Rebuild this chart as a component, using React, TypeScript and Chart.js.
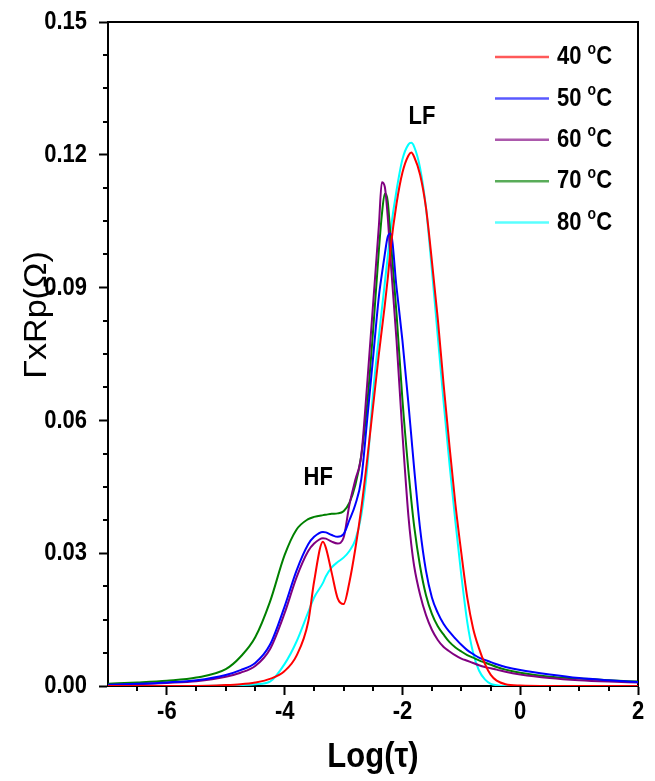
import React, { useEffect, useRef } from 'react';
import { Chart, registerables } from 'chart.js';

Chart.register(...registerables);

// ---- data ----
const LOG_TAU = [
  -7, -6.5, -6, -5.5, -5, -4.75, -4.5, -4.25, -4, -3.8,
  -3.6, -3.5, -3.35, -3.3, -3.2, -3.1, -3, -2.9, -2.8, -2.7,
  -2.6, -2.5, -2.4, -2.35, -2.3, -2.25, -2.2, -2.1, -2, -1.9,
  -1.85, -1.8, -1.7, -1.6, -1.5, -1.4, -1.3, -1.2, -1.1, -1,
  -0.9, -0.8, -0.7, -0.6, -0.5, -0.4, -0.25, 0, 0.5, 1,
  1.5, 2,
];

const T40 = [
  0, 0, 0, 0, 0.0002, 0.0004, 0.0008, 0.0016, 0.0034, 0.0068,
  0.0145, 0.0236, 0.0326, 0.0312, 0.0255, 0.0198, 0.0185, 0.0235, 0.031, 0.04,
  0.051, 0.063, 0.075, 0.0805, 0.086, 0.092, 0.099, 0.109, 0.116, 0.1198,
  0.1205, 0.1195, 0.1155, 0.108, 0.096, 0.083, 0.068, 0.054, 0.041, 0.03,
  0.02, 0.013, 0.0085, 0.005, 0.0025, 0.0012, 0.0004, 0.0001, 0, 0,
  0, 0,
];

const T50 = [
  0.0003, 0.0005, 0.0008, 0.0013, 0.0025, 0.0036, 0.0052, 0.0093, 0.018, 0.026,
  0.032, 0.0337, 0.0348, 0.0347, 0.0341, 0.0337, 0.0343, 0.0375, 0.041, 0.0466,
  0.06, 0.074, 0.088, 0.093, 0.0975, 0.1015, 0.1022, 0.09, 0.078, 0.064,
  0.0565, 0.049, 0.0355, 0.026, 0.02, 0.0165, 0.014, 0.0122, 0.0107, 0.0093,
  0.0081, 0.0072, 0.0064, 0.0059, 0.0054, 0.0049, 0.0043, 0.0036, 0.0026, 0.0018,
  0.0013, 0.0009,
];

const T60 = [
  0.0002, 0.0004, 0.0007, 0.0011, 0.0021, 0.003, 0.0045, 0.0083, 0.0165, 0.0245,
  0.0305, 0.0322, 0.0334, 0.0333, 0.0326, 0.0322, 0.0335, 0.041, 0.0466, 0.052,
  0.068, 0.086, 0.104, 0.1138, 0.1128, 0.106, 0.096, 0.078, 0.057, 0.0386,
  0.032, 0.027, 0.0206, 0.016, 0.0127, 0.0104, 0.0088, 0.0078, 0.0069, 0.0062,
  0.0057, 0.0052, 0.0047, 0.0043, 0.004, 0.0037, 0.0032, 0.0026, 0.0018, 0.0013,
  0.001, 0.0008,
];

const T70 = [
  0.0005, 0.0008, 0.0012, 0.0019, 0.0038, 0.0066, 0.011, 0.019, 0.0296, 0.0353,
  0.0377, 0.0382, 0.0386, 0.0387, 0.0389, 0.039, 0.0395, 0.0414, 0.0454, 0.052,
  0.0635, 0.08, 0.0985, 0.1064, 0.1112, 0.1095, 0.101, 0.084, 0.0646, 0.0488,
  0.042, 0.036, 0.027, 0.0205, 0.0163, 0.0135, 0.0116, 0.0099, 0.0087, 0.0078,
  0.007, 0.0064, 0.0058, 0.0053, 0.0048, 0.0043, 0.0037, 0.003, 0.0021, 0.0017,
  0.0013, 0.001,
];

const T80 = [
  0, 0, 0, 0, 0.0001, 0.0002, 0.0004, 0.001, 0.005, 0.01,
  0.0167, 0.02, 0.0233, 0.0248, 0.0268, 0.028, 0.029, 0.0305, 0.033, 0.0385,
  0.049, 0.066, 0.079, 0.085, 0.091, 0.097, 0.103, 0.112, 0.119, 0.1223,
  0.1227, 0.1218, 0.117, 0.108, 0.094, 0.079, 0.064, 0.05, 0.037, 0.025,
  0.0145, 0.0075, 0.0035, 0.0015, 0.0005, 0.0002, 0, 0, 0, 0,
  0, 0,
];

const SERIES_VALUES = [T40, T50, T60, T70, T80];
const SERIES_TEMPS = ['40', '50', '60', '70', '80'];
const SERIES_COLORS = ['#ff0000', '#0000ff', '#800080', '#008000', '#00ffff'];

const X_MIN = -7;
const X_MAX = 2;
const Y_MIN = 0;
const Y_MAX = 0.15;
const X_TICKS = [-6, -4, -2, 0, 2];
const Y_TICKS = [0, 0.03, 0.06, 0.09, 0.12, 0.15];
const X_MINOR_STEP = 0.5;
const Y_MINOR_STEP = 0.0075;

const X_TITLE = 'Log(τ)';
const Y_TITLE = 'ΓxRp(Ω)';
const ANNOTATIONS = [
  { text: 'HF', x: -3.43, y: 0.047 },
  { text: 'LF', x: -1.67, y: 0.1286 },
];

const SANS = "'Liberation Sans', Arial, sans-serif";
const STRETCH = 1.2;

function drawText(
  ctx: CanvasRenderingContext2D,
  text: string,
  x: number,
  y: number,
  font: string,
  align: CanvasTextAlign,
  sy = 1,
) {
  ctx.save();
  ctx.translate(x, y);
  ctx.scale(1, sy);
  ctx.font = font;
  ctx.textAlign = align;
  ctx.textBaseline = 'middle';
  ctx.fillStyle = '#000';
  ctx.fillText(text, 0, 0);
  ctx.restore();
}

const decorPlugin = {
  id: 'decor',
  beforeDatasetsDraw(chart: any) {
    const { ctx, chartArea: a, scales } = chart;
    const xs = scales.x;
    const ys = scales.y;
    ctx.save();
    ctx.strokeStyle = '#000';
    ctx.lineWidth = 2;
    ctx.strokeRect(a.left, a.top, a.right - a.left, a.bottom - a.top);
    ctx.beginPath();
    const nx = Math.round((X_MAX - X_MIN) / X_MINOR_STEP);
    for (let i = 1; i < nx; i++) {
      const v = X_MIN + i * X_MINOR_STEP;
      if (X_TICKS.some((t) => Math.abs(t - v) < 1e-6)) continue;
      const px = Math.round(xs.getPixelForValue(v));
      ctx.moveTo(px, a.bottom);
      ctx.lineTo(px, a.bottom + 5);
    }
    const ny = Math.round((Y_MAX - Y_MIN) / Y_MINOR_STEP);
    for (let i = 1; i < ny; i++) {
      const v = Y_MIN + i * Y_MINOR_STEP;
      if (Y_TICKS.some((t) => Math.abs(t - v) < 1e-6)) continue;
      const py = Math.round(ys.getPixelForValue(v));
      ctx.moveTo(a.left, py);
      ctx.lineTo(a.left - 5, py);
    }
    ctx.stroke();
    ctx.restore();
  },
  afterDatasetsDraw(chart: any) {
    const { ctx, chartArea: a, scales } = chart;
    const xs = scales.x;
    const ys = scales.y;
    const tickFont = `bold 22px ${SANS}`;
    // tick labels
    xs.ticks.forEach((t: any) => {
      drawText(ctx, String(t.value), xs.getPixelForValue(t.value), a.bottom + 26, tickFont, 'center', STRETCH);
    });
    ys.ticks.forEach((t: any) => {
      drawText(ctx, Number(t.value).toFixed(2), a.left - 21, ys.getPixelForValue(t.value), tickFont, 'right', STRETCH);
    });
    // legend
    SERIES_TEMPS.forEach((t, i) => {
      const y = a.top + 35 + i * 41.4;
      ctx.save();
      ctx.strokeStyle = SERIES_COLORS[i];
      ctx.globalAlpha = 0.65;
      ctx.lineWidth = 2.5;
      ctx.beginPath();
      ctx.moveTo(a.right - 143, y);
      ctx.lineTo(a.right - 89, y);
      ctx.stroke();
      ctx.restore();
      const font = `bold 22px ${SANS}`;
      let x = a.right - 81;
      drawText(ctx, t + ' ', x, y, font, 'left', STRETCH);
      ctx.font = font;
      x += ctx.measureText(t + ' ').width;
      drawText(ctx, 'o', x, y - 8, `bold 14px ${SANS}`, 'left', STRETCH);
      ctx.font = `bold 14px ${SANS}`;
      x += ctx.measureText('o').width;
      drawText(ctx, 'C', x, y, font, 'left', STRETCH);
    });
    // annotations
    ANNOTATIONS.forEach((an) => {
      drawText(
        ctx,
        an.text,
        xs.getPixelForValue(an.x),
        ys.getPixelForValue(an.y),
        `bold 22px ${SANS}`,
        'center',
        STRETCH,
      );
    });
    // axis titles
    drawText(ctx, X_TITLE, (a.left + a.right) / 2, 757, `bold 31px ${SANS}`, 'center', 1.12);
    ctx.save();
    ctx.translate(37, 315);
    ctx.rotate(-Math.PI / 2);
    ctx.scale(1.1, 1);
    ctx.font = `31px ${SANS}`;
    ctx.textAlign = 'center';
    ctx.textBaseline = 'middle';
    ctx.fillStyle = '#000';
    ctx.fillText(Y_TITLE, 0, 0);
    ctx.restore();
  },
};

export default function App() {
  const canvasRef = useRef<HTMLCanvasElement | null>(null);

  useEffect(() => {
    const canvas = canvasRef.current;
    if (!canvas) return;
    const datasets = SERIES_VALUES.map((vals, i) => ({
      label: SERIES_TEMPS[i] + ' °C',
      data: LOG_TAU.map((x, j) => ({ x, y: vals[j] })),
      borderColor: SERIES_COLORS[i],
      backgroundColor: SERIES_COLORS[i],
      borderWidth: 2,
      pointRadius: 0,
      fill: false,
      cubicInterpolationMode: 'monotone' as const,
    }));

    const chart = new Chart(canvas, {
      type: 'line',
      data: { datasets },
      options: {
        responsive: false,
        animation: false,
        layout: { padding: { top: 22, right: 17, left: 0, bottom: 0 } },
        plugins: {
          legend: { display: false },
          tooltip: { enabled: false },
        },
        scales: {
          x: {
            type: 'linear',
            min: X_MIN,
            max: X_MAX,
            afterBuildTicks: (scale: any) => {
              scale.ticks = X_TICKS.map((value) => ({ value }));
            },
            afterFit: (scale: any) => {
              scale.height = 95;
            },
            ticks: { display: false, autoSkip: false, maxRotation: 0 },
            grid: {
              drawOnChartArea: false,
              drawTicks: true,
              tickLength: 9,
              tickWidth: 2,
              tickColor: '#000',
            },
            border: { display: true, color: '#000', width: 2 },
          },
          y: {
            type: 'linear',
            min: Y_MIN,
            max: Y_MAX,
            afterBuildTicks: (scale: any) => {
              scale.ticks = Y_TICKS.map((value) => ({ value }));
            },
            afterFit: (scale: any) => {
              scale.width = 108;
            },
            ticks: { display: false, autoSkip: false },
            grid: {
              drawOnChartArea: false,
              drawTicks: true,
              tickLength: 9,
              tickWidth: 2,
              tickColor: '#000',
            },
            border: { display: true, color: '#000', width: 2 },
          },
        },
      },
      plugins: [decorPlugin],
    });

    return () => {
      chart.destroy();
    };
  }, []);

  return (
    <div
      style={{
        position: 'fixed',
        left: 0,
        top: 0,
        width: 655,
        height: 781,
        background: '#fff',
      }}
    >
      <canvas
        ref={canvasRef}
        width={655}
        height={781}
        style={{ display: 'block', width: 655, height: 781 }}
      />
    </div>
  );
}
